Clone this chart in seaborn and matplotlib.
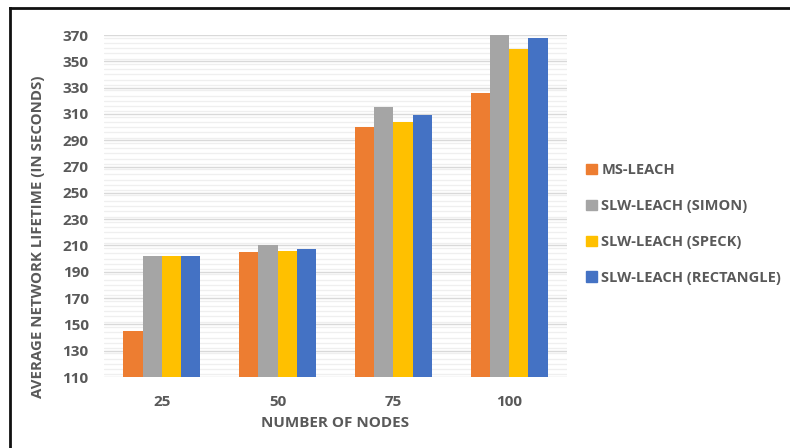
import matplotlib
matplotlib.use("Agg")
import matplotlib.pyplot as plt
from matplotlib.lines import Line2D
from matplotlib.ticker import MultipleLocator
import seaborn as sns
import pandas as pd

# Network size categories and measured lifetimes per protocol
nodes = ["25", "50", "75", "100"]
ms_leach = [145, 205, 300, 326]
slw_simon = [202, 210, 315, 370]
slw_speck = [202, 206, 304, 359]
slw_rectangle = [202, 207, 309, 368]
y_ticks = [110, 130, 150, 170, 190, 210, 230, 250, 270, 290, 310, 330, 350, 370]

series_names = ["MS-LEACH", "SLW-LEACH (SIMON)", "SLW-LEACH (SPECK)", "SLW-LEACH (RECTANGLE)"]
series_values = [ms_leach, slw_simon, slw_speck, slw_rectangle]
colors = ["#ED7D31", "#A5A5A5", "#FFC000", "#4472C4"]

rows = []
for name, vals in zip(series_names, series_values):
    for n, v in zip(nodes, vals):
        rows.append({"Nodes": n, "Protocol": name, "Lifetime": v})
df = pd.DataFrame(rows)

sns.set_theme(style="white")
plt.rcParams["font.family"] = ["Open Sans", "DejaVu Sans"]
text_color = "#595959"
font_kw = {"family": "Open Sans", "weight": "bold"}

fig = plt.figure(figsize=(7.9, 4.48), dpi=100)
ax = fig.add_axes([104 / 790, 1 - 377 / 448, (567 - 104) / 790, (377 - 35) / 448])

sns.barplot(data=df, x="Nodes", y="Lifetime", hue="Protocol", order=nodes,
            hue_order=series_names, palette=colors, width=0.665, saturation=1,
            linewidth=0, ax=ax, zorder=3)

ax.set_ylim(110, 370)
ax.set_xlim(-0.5, 3.5)
ax.set_yticks(y_ticks)
ax.yaxis.set_minor_locator(MultipleLocator(4))
ax.grid(axis="y", which="major", color="#D9D9D9", linewidth=1.0, zorder=0)
ax.grid(axis="y", which="minor", color="#EFEFEF", linewidth=0.9, zorder=0)
ax.set_axisbelow(True)
for s in ax.spines.values():
    s.set_visible(False)
ax.tick_params(axis="both", which="both", length=0)
ax.tick_params(axis="y", pad=11)
ax.tick_params(axis="x", pad=13)
for lbl in ax.get_xticklabels() + ax.get_yticklabels():
    lbl.set_fontsize(11)
    lbl.set_fontweight("bold")
    lbl.set_fontfamily("Open Sans")
    lbl.set_color(text_color)

ax.set_xlabel("NUMBER OF NODES", fontsize=11, color=text_color, **font_kw)
ax.set_ylabel("AVERAGE NETWORK LIFETIME (IN SECONDS)", fontsize=10.8,
              color=text_color, **font_kw)
ax.xaxis.set_label_coords(0.499, -0.115)
ax.yaxis.set_label_coords(-0.128, 0.41)

ax.legend_.remove()
handles = [plt.Rectangle((0, 0), 1, 1, color=c) for c in colors]
fig.legend(handles, series_names, loc="center left", bbox_to_anchor=(573 / 790, 1 - 224 / 448),
           frameon=False, handlelength=0.75, handleheight=0.75, handletextpad=0.3,
           labelspacing=1.5, prop={"family": "Open Sans", "weight": "bold", "size": 10.5},
           labelcolor=text_color)

# Outer frame (left and top edges)
fig.add_artist(Line2D([10 / 790, 10 / 790], [0, 1 - 8.5 / 448], transform=fig.transFigure,
                      color="#111111", linewidth=2.0, solid_capstyle="projecting"))
fig.add_artist(Line2D([10 / 790, 1], [1 - 8.5 / 448, 1 - 8.5 / 448], transform=fig.transFigure,
                      color="#111111", linewidth=2.0, solid_capstyle="projecting"))

fig.savefig("out.png", dpi=100)
